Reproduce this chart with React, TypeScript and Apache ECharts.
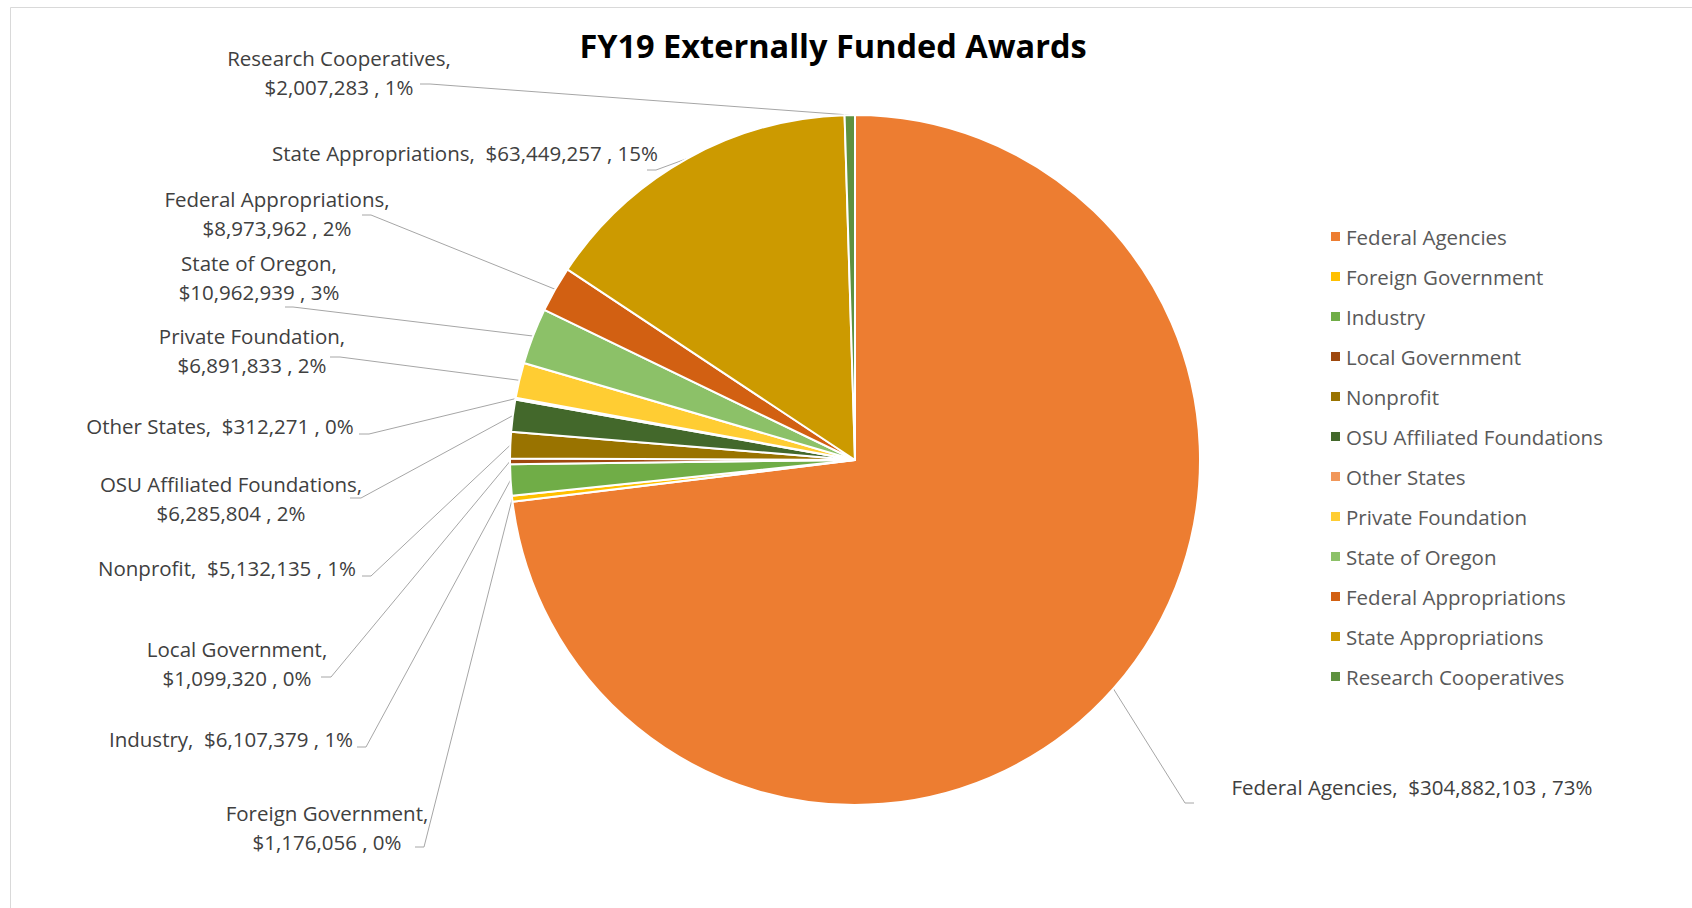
import React, { useEffect, useRef } from "react";
import * as echarts from "echarts";

const categories = [
  "Federal Agencies",
  "Foreign Government",
  "Industry",
  "Local Government",
  "Nonprofit",
  "OSU Affiliated Foundations",
  "Other States",
  "Private Foundation",
  "State of Oregon",
  "Federal Appropriations",
  "State Appropriations",
  "Research Cooperatives",
];

const awards = [
  304882103, 1176056, 6107379, 1099320, 5132135, 6285804, 312271, 6891833,
  10962939, 8973962, 63449257, 2007283,
];

const percentLabels = ["73%", "0%", "1%", "0%", "1%", "2%", "0%", "2%", "3%", "2%", "15%", "1%"];

const colors = [
  "#ED7D31", "#FFC000", "#70AD47", "#9E480E", "#997300", "#43682B",
  "#F1975A", "#FFCD33", "#8CC168", "#D26012", "#CC9A00", "#5E913F",
];

// label layout: center x/y, whether split into two lines, leader elbow and stub end
const labelLayouts = [
  { x: 1412, y: 787, two: false, elbow: [1185, 803], stub: [1194, 803] },
  { x: 327, y: 827, two: true, elbow: [424, 847], stub: [415, 847] },
  { x: 231, y: 739, two: false, elbow: [366, 747], stub: [357, 747] },
  { x: 237, y: 663, two: true, elbow: [331, 677], stub: [321, 677] },
  { x: 227, y: 568, two: false, elbow: [371, 576], stub: [362, 576] },
  { x: 231, y: 498, two: true, elbow: [361, 498], stub: [350, 498] },
  { x: 220, y: 426, two: false, elbow: [369, 434], stub: [359, 434] },
  { x: 252, y: 350, two: true, elbow: [340, 357], stub: [330, 357] },
  { x: 259, y: 277, two: true, elbow: [293, 307], stub: [285, 307] },
  { x: 277, y: 213, two: true, elbow: [371, 215], stub: [362, 215] },
  { x: 465, y: 153, two: false, elbow: [656, 170], stub: [647, 170] },
  { x: 339, y: 72, two: true, elbow: [430, 84], stub: [420, 84] },
];

const FONT = "'Open Sans', 'Noto Sans', sans-serif";

export default function App() {
  const ref = useRef<HTMLDivElement>(null);

  useEffect(() => {
    document.body.style.margin = "0";
    if (!ref.current) return;
    const chart = echarts.init(ref.current, undefined, { renderer: "svg" });
    const data = categories.map((name, i) => ({
      name,
      value: awards[i],
      itemStyle: { color: colors[i] },
    }));
    chart.setOption({
      animation: false,
      backgroundColor: "#ffffff",
      title: {
        text: "FY19 Externally Funded Awards",
        left: 828,
        top: 24,
        textAlign: "center",
        textStyle: {
          fontFamily: FONT,
          fontSize: 32.5,
          fontWeight: "bold",
          color: "#000000",
        },
      },
      legend: {
        orient: "vertical",
        left: 1324,
        top: 221,
        icon: "rect",
        itemWidth: 11,
        itemHeight: 11,
        itemGap: 19,
        data: categories,
        textStyle: {
          fontFamily: FONT,
          fontSize: 20.5,
          lineHeight: 20,
          color: "#595959",
        },
      },
      graphic: [
        {
          type: "rect",
          silent: true,
          shape: { x: 10.5, y: 7.5, width: 1800, height: 1000 },
          style: { fill: "none", stroke: "#D9D9D9", lineWidth: 1 },
        },
      ],
      series: [
        {
          type: "pie",
          center: [855, 460],
          radius: 345,
          startAngle: 90,
          clockwise: true,
          avoidLabelOverlap: false,
          itemStyle: { borderColor: "#ffffff", borderWidth: 2 },
          label: {
            show: true,
            position: "outside",
            fontFamily: FONT,
            fontSize: 20.5,
            lineHeight: 29,
            color: "#404040",
            formatter: (p: any) => {
              const i = p.dataIndex;
              const amount = "$" + awards[i].toLocaleString("en-US");
              const sep = labelLayouts[i].two ? ",\n" : ",  ";
              return categories[i] + sep + amount + " , " + percentLabels[i];
            },
          },
          labelLine: {
            show: true,
            length: 10,
            length2: 10,
            lineStyle: { color: "#A6A6A6", width: 1 },
          },
          labelLayout: (p: any) => {
            const L = labelLayouts[p.dataIndex];
            const pts = p.labelLinePoints;
            const res: any = {
              x: L.x,
              y: L.y,
              align: "center",
              verticalAlign: "middle",
            };
            if (pts && pts.length) {
              res.labelLinePoints = [pts[0], L.elbow, L.stub];
            }
            return res;
          },
          data,
        },
      ],
    });
    return () => chart.dispose();
  }, []);

  return <div ref={ref} style={{ width: 1692, height: 908 }} />;
}
